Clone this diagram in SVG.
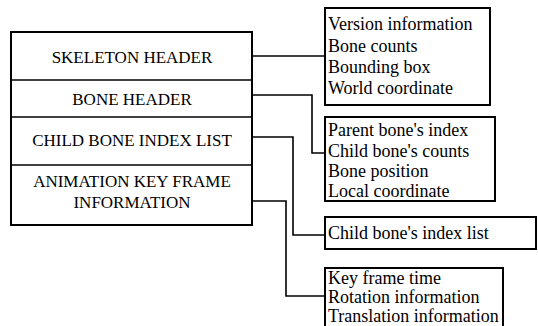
<svg xmlns="http://www.w3.org/2000/svg" width="538" height="326" viewBox="0 0 538 326">
<style>
.box{fill:#fff;stroke:#000;stroke-width:2}
.ln{fill:none;stroke:#000;stroke-width:1.6}
text{font-family:"Liberation Serif","Times New Roman",serif;font-size:17px;fill:#000}
.c{text-anchor:middle}
.r{font-size:18px}
</style>
<rect width="538" height="326" fill="#fff"/>
<g id="connectors">
<polyline class="ln" points="252,56 325,56"/>
<polyline class="ln" points="252,95 312,95 312,153 325,153"/>
<polyline class="ln" points="252,137 293,137 293,235 325,235"/>
<polyline class="ln" points="252,201 286,201 286,296 325,296"/>
</g>
<g id="main">
<rect class="box" x="11" y="32" width="241" height="193"/>
<line class="ln" x1="11" y1="80" x2="252" y2="80"/>
<line class="ln" x1="11" y1="117" x2="252" y2="117"/>
<line class="ln" x1="11" y1="165" x2="252" y2="165"/>
<text class="c" x="132" y="63">SKELETON HEADER</text>
<text class="c" x="132" y="105">BONE HEADER</text>
<text class="c" x="132" y="146">CHILD BONE INDEX LIST</text>
<text class="c" x="132" y="187">ANIMATION KEY FRAME</text>
<text class="c" x="132" y="208">INFORMATION</text>
</g>
<g id="skeleton-info">
<rect class="box" x="325" y="8" width="165" height="97"/>
<text class="r" x="328" y="30">Version information</text>
<text class="r" x="328" y="52">Bone counts</text>
<text class="r" x="328" y="73">Bounding box</text>
<text class="r" x="328" y="94">World coordinate</text>
</g>
<g id="bone-info">
<rect class="box" x="325" y="117" width="170" height="84"/>
<text class="r" x="328" y="136">Parent bone's index</text>
<text class="r" x="328" y="157">Child bone's counts</text>
<text class="r" x="328" y="177">Bone position</text>
<text class="r" x="328" y="197">Local coordinate</text>
</g>
<g id="child-info">
<rect class="box" x="325" y="217" width="211" height="32"/>
<text class="r" x="328" y="239">Child bone's index list</text>
</g>
<g id="anim-info">
<rect class="box" x="325" y="268" width="178" height="70"/>
<text class="r" x="328" y="284">Key frame time</text>
<text class="r" x="328" y="303">Rotation information</text>
<text class="r" x="328" y="322">Translation information</text>
</g>
</svg>
